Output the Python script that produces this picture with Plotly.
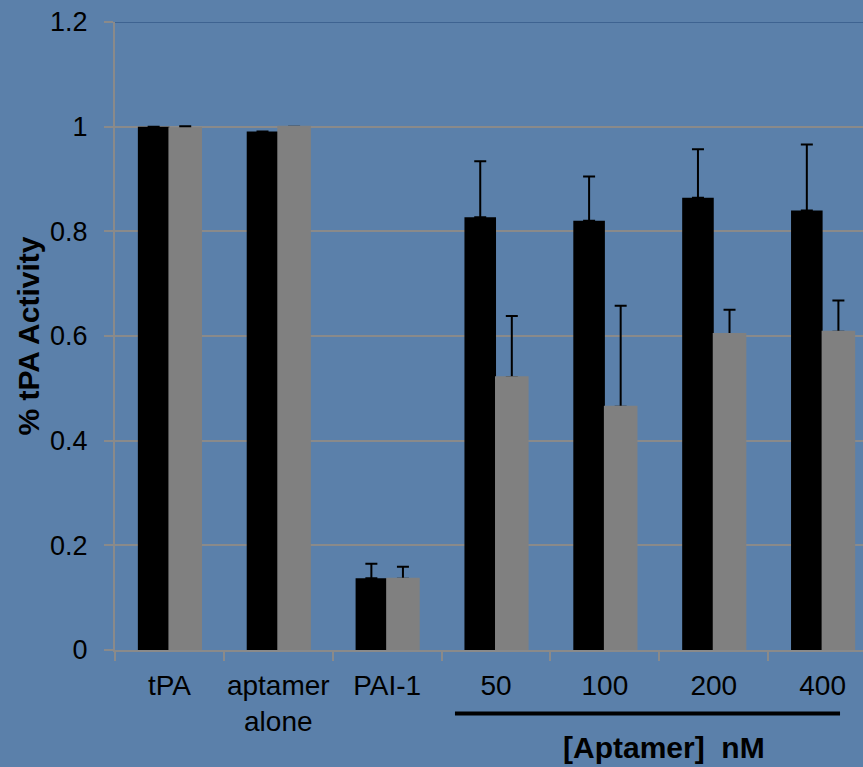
import plotly.graph_objects as go

categories = ["tPA", "aptamer<br>alone", "PAI-1", "50", "100", "200", "400"]
black_vals = [1.0, 0.991, 0.137, 0.827, 0.820, 0.864, 0.840]
black_err = [None, None, 0.028, 0.107, 0.085, 0.093, 0.126]
gray_vals = [0.997, 1.0, 0.136, 0.521, 0.465, 0.604, 0.608]
gray_err = [0.004, None, 0.023, 0.117, 0.193, 0.046, 0.060]
y_ticks = [0, 0.2, 0.4, 0.6, 0.8, 1, 1.2]
y_tick_text = ["0", "0.2", "0.4", "0.6", "0.8", "1", "1.2"]

BG = "#5b80aa"
FONT = "Liberation Sans, Arial, sans-serif"


def zeros(arr):
    return [0 if v is not None else None for v in arr]


def err_style(arr):
    return dict(type="data", array=arr, arrayminus=zeros(arr), symmetric=False,
                color="#000000", thickness=2, width=6)


fig = go.Figure()
# black bars (their lower error caps are hidden in the black bar)
fig.add_trace(go.Bar(
    x=categories, y=black_vals, name="A", offsetgroup="a",
    marker=dict(color="#000000", line=dict(width=0)),
    error_y=err_style(black_err),
))
# error bars for the gray series, drawn beneath the gray bars
fig.add_trace(go.Bar(
    x=categories, y=gray_vals, name="B err", offsetgroup="b",
    marker=dict(color="rgba(0,0,0,0)", line=dict(width=0)),
    error_y=err_style(gray_err), hoverinfo="skip",
))
fig.add_trace(go.Bar(
    x=categories, y=gray_vals, name="B", offsetgroup="b",
    marker=dict(color="#808080", line=dict(width=2, color="#808080")),
))

fig.update_layout(
    width=863, height=767,
    margin=dict(l=115, r=0, t=22, b=116.5, autoexpand=False),
    paper_bgcolor=BG, plot_bgcolor=BG,
    barmode="group", bargap=0.42, bargroupgap=0,
    showlegend=False,
    font=dict(family=FONT, size=27, color="#000000"),
)
fig.update_xaxes(
    type="category", range=[-0.5, 6.371],
    showgrid=False, showline=True, linecolor="#8a8a8a", linewidth=2,
    ticks="outside", tickson="boundaries", ticklen=9, tickcolor="#8a8a8a", tickwidth=2,
    tickfont=dict(size=28), ticklabelstandoff=9, tickangle=0,
)
fig.update_yaxes(
    range=[0, 1.2], tickvals=y_ticks, ticktext=y_tick_text,
    showgrid=True, gridcolor="#8a8a8a", gridwidth=2,
    showline=True, linecolor="#8a8a8a", linewidth=2,
    ticks="outside", ticklen=9, tickcolor="#8a8a8a", tickwidth=2,
    tickfont=dict(size=27), ticklabelstandoff=11,
    zeroline=False,
    title=dict(text="<b>% tPA Activity</b>", font=dict(size=30), standoff=2),
)

# top border line at 1.2 (dark blue)
fig.add_shape(type="line", xref="paper", yref="y", x0=0, x1=1, y0=1.2, y1=1.2,
              line=dict(color="#3e6391", width=2))
# bracket line under concentration labels
fig.add_shape(type="line", xref="x", yref="paper", x0=2.623, x1=6.16, y0=-0.101, y1=-0.101,
              line=dict(color="#000000", width=4))
fig.add_annotation(text="<b>[Aptamer]  nM</b>", xref="x", yref="paper", x=4.543, y=-0.155,
                   showarrow=False, font=dict(size=30), xanchor="center", yanchor="middle")

fig.write_html(
    "out.html",
    config={"displayModeBar": False},
    post_script="document.body.style.margin='0';document.body.style.overflow='hidden';",
)
